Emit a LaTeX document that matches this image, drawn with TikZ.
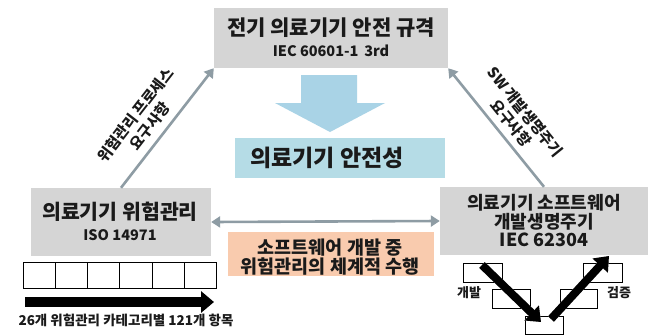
\documentclass[tikz,border=0pt]{standalone}
\usepackage{fontspec}
\setmainfont{Noto Sans CJK KR}
\usetikzlibrary{arrows.meta}
\definecolor{boxgray}{HTML}{D5D5D5}
\definecolor{safeblue}{HTML}{B5DCE6}
\definecolor{arrowblue}{HTML}{A9D3E6}
\definecolor{softorange}{HTML}{F9CBAE}
\definecolor{linkgray}{HTML}{8E9CA4}
\definecolor{ink}{HTML}{1A1A1A}
\tikzset{
  graybox/.style={fill=boxgray, draw=none, inner sep=0pt},
  txt/.style={text=ink, inner sep=0pt, font=\bfseries},
  cellbox/.style={draw=black, line width=0.9pt, fill=white, inner sep=0pt},
  link/.style={draw=linkgray, line width=2.6pt, -{Triangle[length=9pt,width=11pt]}},
  duallink/.style={draw=linkgray, line width=2.6pt, {Triangle[length=9pt,width=11pt]}-{Triangle[length=9pt,width=11pt]}},
  vbox/.style={draw=black, line width=0.9pt, fill=white, minimum width=39pt, minimum height=19pt, inner sep=0pt},
  varrow/.style={draw=black, line width=8pt, -{Triangle[length=13pt,width=20pt]}},
}
\begin{document}
\begin{tikzpicture}[x=1pt,y=-1pt]
\useasboundingbox (0,0) rectangle (651,335);
\fill[white] (0,0) rectangle (651,335);

% top box
\node[graybox, minimum width=234pt, minimum height=60pt] (tb) at (331,38) {};
\node[txt, font=\bfseries\fontsize{21}{23}\selectfont] (tbt) at (331,28) {전기 의료기기 안전 규격};
\node[txt, font=\bfseries\fontsize{14.5}{16}\selectfont] (tbs) at (331,51) {IEC 60601-1\, 3rd};

% blue down arrow
\fill[arrowblue] (301,75) -- (357,75) -- (357,103) -- (385,103) -- (330,132) -- (275,103) -- (301,103) -- cycle;

% blue box
\node[fill=safeblue, minimum width=210pt, minimum height=40pt, inner sep=0pt] (sb) at (340,158) {};
\node[txt, font=\bfseries\fontsize{23}{25}\selectfont] (sbt) at (327,158) {의료기기 안전성};

% left box
\node[graybox, minimum width=180pt, minimum height=68pt] (lb) at (121,222) {};
\node[txt, font=\bfseries\fontsize{20.5}{22}\selectfont] (lbt) at (120,212) {의료기기 위험관리};
\node[txt, font=\bfseries\fontsize{14.5}{16}\selectfont] (lbs) at (120,235) {ISO 14971};

% right box
\node[graybox, minimum width=208pt, minimum height=68pt] (rb) at (544,221) {};
\node[txt, align=center, font=\bfseries\fontsize{18}{18.5}\selectfont] (rbt) at (544,221) {의료기기 소프트웨어\\개발생명주기\\IEC 62304};

% orange box
\node[fill=softorange, minimum width=206pt, minimum height=44pt, inner sep=0pt] (ob) at (331,254) {};
\node[txt, align=center, font=\bfseries\fontsize{18.5}{19.5}\selectfont] (obt) at (330,257) {소프트웨어 개발 중\\위험관리의 체계적 수행};

% connectors
\draw[link] (lb.north) -- (tb.south west)
  node[pos=0.44, sloped, above=7pt, txt, align=center, font=\bfseries\fontsize{15}{18}\selectfont] (ll) {위험관리 프로세스\\요구사항};
\draw[link] (rb.north) -- (tb.south east)
  node[pos=0.46, sloped, above=6pt, txt, align=center, font=\bfseries\fontsize{15}{18}\selectfont] (rl) {SW 개발생명주기\\요구사항};
\draw[duallink] (lb.east) -- (rb.west);

% cells under left box
\foreach \i in {0,...,5} {
  \node[cellbox, minimum width=32.3pt, minimum height=26pt] (c\i) at ({23+16.15+32.3*\i},275) {};
}
\coordinate (ba) at (25,302);
\coordinate (bb) at (214,302);
\draw[black, line width=10pt, -{Triangle[length=13pt,width=21pt]}] (ba) -- (bb);
\node[txt, font=\bfseries\fontsize{13.5}{15}\selectfont] (bt) at (126,320) {26개 위험관리 카테고리별 121개 항목};

% V model
\node[vbox] (v1) at (483,272.5) {};
\node[vbox, minimum width=38pt] (v2) at (511,298.5) {};
\node[vbox, minimum width=38pt, minimum height=18pt] (v3) at (544,325) {};
\node[vbox, minimum width=37pt] (v4) at (578.5,299) {};
\node[vbox] (v5) at (602.5,272.5) {};
\coordinate (d1) at (482,265);
\coordinate (d2) at (541,322);
\coordinate (u1) at (551,319);
\coordinate (u2) at (609,256);
\draw[varrow, draw=black!25, shift={(2pt,2pt)}] (d1) -- (d2);
\draw[varrow, draw=black!25, shift={(2pt,2pt)}] (u1) -- (u2);
\draw[varrow] (d1) -- (d2);
\draw[varrow] (u1) -- (u2);
\node[txt, font=\bfseries\fontsize{13}{15}\selectfont] (dev) at (469,293) {개발};
\node[txt, font=\bfseries\fontsize{13}{15}\selectfont] (ver) at (619,293) {검증};
\end{tikzpicture}
\end{document}
